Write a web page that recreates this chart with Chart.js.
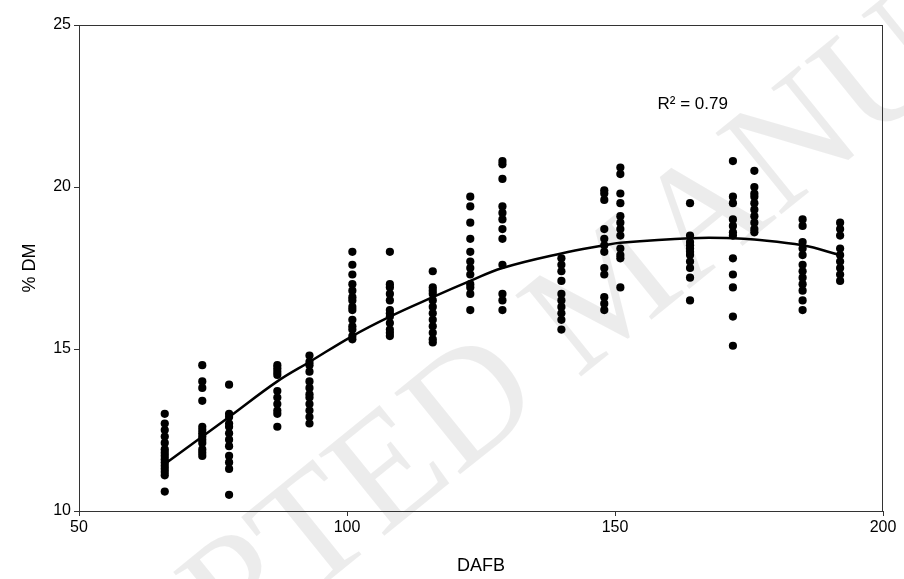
<!DOCTYPE html>
<html>
<head>
<meta charset="utf-8">
<script src="https://cdn.jsdelivr.net/npm/chart.js@4.4.1/dist/chart.umd.min.js"></script>
<style>
  html, body { margin: 0; padding: 0; background: #fff; }
  #wrap { width: 904px; height: 579px; }
</style>
</head>
<body>
<div id="wrap"><canvas id="dmChart" width="904" height="579"></canvas></div>
<script>
// sampling days (DAFB) and measured % DM at each day
const dafb = [66, 73, 78, 87, 93, 101, 108, 116, 123, 129, 140, 148, 151, 164, 172, 176, 185, 192];
const dm = [
  [13.0, 12.7, 12.5, 12.3, 12.1, 11.9, 11.8, 11.7, 11.6, 11.5, 11.4, 11.3, 11.2, 11.1, 10.6],
  [14.5, 14.0, 13.8, 13.4, 12.6, 12.5, 12.4, 12.3, 12.2, 12.1, 11.9, 11.8, 11.7],
  [13.9, 13.0, 12.9, 12.7, 12.6, 12.4, 12.2, 12.0, 11.7, 11.5, 11.3, 10.5],
  [14.5, 14.4, 14.3, 14.2, 13.7, 13.5, 13.3, 13.1, 13.0, 12.6],
  [14.8, 14.6, 14.5, 14.3, 14.0, 13.8, 13.6, 13.5, 13.3, 13.1, 12.9, 12.7],
  [18.0, 17.6, 17.3, 17.0, 16.8, 16.6, 16.5, 16.3, 16.2, 15.9, 15.7, 15.6, 15.4, 15.3],
  [18.0, 17.0, 16.9, 16.7, 16.5, 16.2, 16.1, 16.0, 15.8, 15.6, 15.5, 15.4],
  [17.4, 16.9, 16.8, 16.7, 16.5, 16.3, 16.1, 15.9, 15.7, 15.5, 15.3, 15.2],
  [19.7, 19.4, 18.9, 18.4, 18.0, 17.7, 17.5, 17.3, 17.0, 16.9, 16.7, 16.2],
  [20.8, 20.7, 20.25, 19.4, 19.2, 19.0, 18.7, 18.4, 17.6, 16.7, 16.5, 16.2],
  [17.8, 17.6, 17.4, 17.1, 16.7, 16.5, 16.3, 16.1, 15.9, 15.6],
  [19.9, 19.8, 19.6, 18.7, 18.4, 18.2, 18.0, 17.5, 17.3, 16.6, 16.4, 16.2],
  [20.6, 20.4, 19.8, 19.5, 19.1, 18.9, 18.7, 18.5, 18.1, 17.9, 17.8, 16.9],
  [19.5, 18.5, 18.3, 18.2, 18.1, 18.0, 17.9, 17.7, 17.5, 17.2, 16.5],
  [20.8, 19.7, 19.5, 19.0, 18.8, 18.6, 18.5, 17.8, 17.3, 16.9, 16.0, 15.1],
  [20.5, 20.0, 19.8, 19.7, 19.5, 19.3, 19.1, 18.9, 18.7, 18.6],
  [19.0, 18.8, 18.3, 18.1, 17.9, 17.6, 17.4, 17.2, 17.0, 16.8, 16.5, 16.2],
  [18.9, 18.7, 18.5, 18.1, 17.9, 17.7, 17.5, 17.3, 17.1]
];

// fitted curve
const fitX = [66, 78, 87, 93, 101, 108, 116, 123, 129, 140, 148, 151, 164, 172, 176, 185, 192];
const fitY = [11.45, 12.9, 14.0, 14.6, 15.4, 16.0, 16.6, 17.1, 17.5, 17.95, 18.2, 18.28, 18.42, 18.42, 18.38, 18.2, 17.9];

const xTicks = [50, 100, 150, 200];
const yTicks = [10, 15, 20, 25];
const r2Label = "R\u00b2 = 0.79";
const watermark = "ACCEPTED MANUSCRIPT";

const points = [];
dafb.forEach((d, i) => dm[i].forEach((v) => points.push({ x: d, y: v })));
const curve = fitX.map((x, i) => ({ x: x, y: fitY[i] }));

const extras = {
  id: "extras",
  beforeDatasetsDraw(chart) {
    // faint diagonal stamp across the figure
    const ctx = chart.ctx;
    ctx.save();
    ctx.translate(615, 295);
    ctx.rotate(-39 * Math.PI / 180);
    ctx.font = "160px 'Liberation Serif'";
    ctx.fillStyle = "rgba(0,0,0,0.075)";
    ctx.textAlign = "center";
    ctx.textBaseline = "middle";
    ctx.fillText(watermark, 0, 0);
    ctx.restore();
  },
  afterDraw(chart) {
    const { ctx, chartArea, scales } = chart;
    ctx.save();
    ctx.strokeStyle = "#333";
    ctx.lineWidth = 1;
    ctx.strokeRect(chartArea.left + 0.5, chartArea.top + 0.5,
      chartArea.right - chartArea.left - 1, chartArea.bottom - chartArea.top);
    ctx.fillStyle = "#000";
    ctx.font = "17px 'Liberation Sans'";
    ctx.textAlign = "center";
    ctx.textBaseline = "middle";
    ctx.fillText(r2Label, scales.x.getPixelForValue(164.5), scales.y.getPixelForValue(22.55));
    ctx.restore();
  }
};

new Chart(document.getElementById("dmChart"), {
  type: "scatter",
  data: {
    datasets: [
      {
        label: "% DM",
        data: points,
        backgroundColor: "#000",
        borderColor: "#000",
        pointRadius: 4.1,
        pointBorderWidth: 0
      },
      {
        label: "fit",
        type: "line",
        data: curve,
        borderColor: "#000",
        borderWidth: 2.5,
        pointRadius: 0,
        tension: 0.4,
        fill: false
      }
    ]
  },
  plugins: [extras],
  options: {
    responsive: false,
    animation: false,
    layout: { padding: { left: 0, top: 25, right: 21, bottom: 0 } },
    plugins: {
      legend: { display: false },
      tooltip: { enabled: false }
    },
    scales: {
      x: {
        type: "linear",
        min: 50,
        max: 200,
        afterBuildTicks: (s) => { s.ticks = xTicks.map((v) => ({ value: v })); },
        afterFit: (s) => { s.height = 68; },
        grid: { drawOnChartArea: false, drawTicks: true, tickLength: 5, color: "#333" },
        border: { display: true, color: "#333" },
        ticks: { color: "#000", font: { family: "'Liberation Sans'", size: 16 }, padding: 2, maxRotation: 0 },
        title: { display: true, text: "DAFB", color: "#000", font: { family: "'Liberation Sans'", size: 18 }, padding: { top: 0, bottom: 2 } }
      },
      y: {
        type: "linear",
        min: 10,
        max: 25,
        afterBuildTicks: (s) => { s.ticks = yTicks.map((v) => ({ value: v })); },
        afterFit: (s) => { s.width = 79; },
        grid: { drawOnChartArea: false, drawTicks: true, tickLength: 5, color: "#333" },
        border: { display: true, color: "#333" },
        ticks: { color: "#000", font: { family: "'Liberation Sans'", size: 16 }, padding: 3 },
        title: { display: true, text: "% DM", color: "#000", font: { family: "'Liberation Sans'", size: 18 }, padding: { top: 19, bottom: 0 } }
      }
    }
  }
});
</script>
</body>
</html>
